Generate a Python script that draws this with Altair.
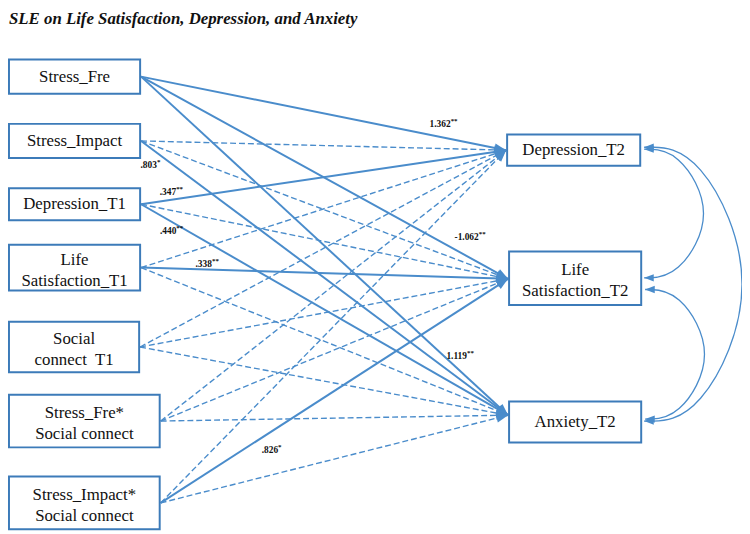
import math
import altair as alt
import pandas as pd

TITLE = "SLE on Life Satisfaction, Depression, and Anxiety"

# ---- nodes -------------------------------------------------------------
pred_ids = ["SF", "SI", "D1", "L1", "SC", "SFS", "SIS"]
pred_labels = ["Stress_Fre", "Stress_Impact", "Depression_T1", "Life\nSatisfaction_T1",
               "Social\nconnect\u00a0 T1", "Stress_Fre*\nSocial connect",
               "Stress_Impact*\nSocial connect"]
out_ids = ["D2", "L2", "A2"]
out_labels = ["Depression_T2", "Life\nSatisfaction_T2", "Anxiety_T2"]

# box layout (diagram canvas 750 x 534)
pred_x0 = [1, 1, 1, 1, 1, 1, 1]
pred_x1 = [135, 135, 135, 135, 134, 155, 155]
pred_y0 = [50, 116, 182, 240, 319, 394, 478]
pred_y1 = [85, 151, 215, 287, 371, 448, 532]
out_x0 = [510, 512, 512]
out_x1 = [646, 647, 647]
out_y0 = [127, 247, 401]
out_y1 = [159, 302, 443]
out_in_y = [143, 275, 415]   # where incoming paths meet each outcome box

# ---- paths -------------------------------------------------------------
edge_from = ["SF", "SF", "SF", "SI", "SI", "SI", "D1", "D1", "D1", "L1", "L1", "L1",
             "SC", "SC", "SC", "SFS", "SFS", "SFS", "SIS", "SIS", "SIS"]
edge_to = ["D2", "L2", "A2"] * 7
edge_coef = ["1.362", "-1.062", "1.119", "", "", ".803", ".347", "", ".440",
             "", ".338", "", "", "", "", "", "", "", "", ".826", ""]
edge_stars = ["**", "**", "**", "", "", "*", "**", "", "**",
              "", "**", "", "", "", "", "", "", "", "", "*", ""]
# label placement: fraction along the path and vertical offset
edge_label_t = [0.848, 0.920, 0.888, 0, 0, 0.043, 0.096, 0, 0.096,
                0, 0.193, 0, 0, 0, 0, 0, 0, 0, 0, 0.338, 0]
edge_label_dy = [-15, -26, -22, 0, 0, 13, -7, 0, 7,
                 0, -5.5, 0, 0, 0, 0, 0, 0, 0, 0, 23, 0]

# covariances between outcomes (double-headed arcs)
cov_a = ["D2", "L2", "D2"]
cov_b = ["L2", "A2", "A2"]
cov_ya = [142, 286, 140]
cov_yb = [274, 419, 421]
cov_bulge_a = [34, 34, 56]
cov_bulge_b = [74, 74, 122]

LINE = "#4a8ccb"
BOX = "#3c7bb9"
SERIF = "Times New Roman, Liberation Serif, serif"
LH = 21

# ---- build tables ------------------------------------------------------
boxes = pd.DataFrame({
    "id": pred_ids + out_ids,
    "label": pred_labels + out_labels,
    "x0": pred_x0 + out_x0, "x1": pred_x1 + out_x1,
    "y0": pred_y0 + out_y0, "y1": pred_y1 + out_y1,
})
boxes["cx"] = (boxes.x0 + boxes.x1) / 2
boxes["cy"] = (boxes.y0 + boxes.y1) / 2
boxes["nl"] = boxes.label.str.count("\n")
boxes["ty"] = boxes.cy - boxes.nl * 8
bx = boxes.set_index("id")
in_y = dict(zip(out_ids, out_in_y))

rows = []
for f, t, c, s, lt, ldy in zip(edge_from, edge_to, edge_coef, edge_stars,
                               edge_label_t, edge_label_dy):
    sx, sy = bx.loc[f, "x1"] + 1, bx.loc[f, "cy"]
    tx, ty = bx.loc[t, "x0"] - 1, in_y[t]
    ang = math.degrees(math.atan2(ty - sy, tx - sx)) % 360
    rows.append(dict(sx=sx, sy=sy, tx=tx, ty=ty, ang=ang,
                     sig="sig" if c else "ns", coef=c, stars=s,
                     lx=sx + lt * (tx - sx), ly=sy + lt * (ty - sy) + ldy))
edges = pd.DataFrame(rows)
labels = edges[edges.coef != ""]

arc_pts, heads = [], []
for k, (a, b, ya, yb, ba, bb) in enumerate(zip(cov_a, cov_b, cov_ya, cov_yb,
                                               cov_bulge_a, cov_bulge_b)):
    x0 = bx.loc[a, "x1"] + 4
    pts = [(x0, ya), (x0 + ba, ya), (x0 + bb, (ya + yb) / 2), (x0 + ba, yb), (x0, yb)]
    for i, (px, py) in enumerate(pts):
        arc_pts.append(dict(arc=k, o=i, x=px, y=py))
    heads.append(dict(x=x0, y=ya, ang=180))
    heads.append(dict(x=x0, y=yb, ang=180))
arcs = pd.DataFrame(arc_pts)
arc_heads = pd.DataFrame(heads)

# ---- chart -------------------------------------------------------------
xs = alt.Scale(domain=[0, 750], nice=False, zero=False)
ys = alt.Scale(domain=[0, 534], nice=False, zero=False, reverse=True)
X = lambda f: alt.X(f, type="quantitative", scale=xs, axis=None)
Y = lambda f: alt.Y(f, type="quantitative", scale=ys, axis=None)

ARROW = "M0,0L-1,-0.38L-1,0.38Z"

base_e = alt.Chart(edges)
solid = base_e.transform_filter(alt.datum.sig == "sig").mark_rule(
    color=LINE, strokeWidth=2).encode(x=X("sx"), y=Y("sy"), x2="tx", y2="ty")
dashed = base_e.transform_filter(alt.datum.sig == "ns").mark_rule(
    color=LINE, strokeWidth=1.4, strokeDash=[6, 3]).encode(
    x=X("sx"), y=Y("sy"), x2="tx", y2="ty")
heads_e = base_e.mark_point(shape=ARROW, filled=True, size=560, color=LINE,
                            opacity=1, strokeWidth=0).encode(
    x=X("tx"), y=Y("ty"), angle=alt.Angle("ang:Q", scale=None))

arc_lines = alt.Chart(arcs).mark_line(color=LINE, strokeWidth=1.3,
                                      interpolate="basis").encode(
    x=X("x"), y=Y("y"), detail="arc:N", order="o:Q")
arc_heads_l = alt.Chart(arc_heads).mark_point(shape=ARROW, filled=True, size=380,
                                              color=LINE, opacity=1,
                                              strokeWidth=0).encode(
    x=X("x"), y=Y("y"), angle=alt.Angle("ang:Q", scale=None))

rects = alt.Chart(boxes).mark_rect(fill="white", stroke=BOX, strokeWidth=2).encode(
    x=X("x0"), x2="x1", y=Y("y0"), y2="y1")
box_text = alt.Chart(boxes).mark_text(font=SERIF, fontSize=17, lineBreak="\n",
                                      lineHeight=LH, color="#111111",
                                      baseline="middle").encode(
    x=X("cx"), y=Y("ty"), text="label:N")

num_text = alt.Chart(labels).mark_text(font=SERIF, fontSize=9.5, fontWeight="bold",
                                       align="right", baseline="middle",
                                       color="#111111").encode(
    x=X("lx"), y=Y("ly"), text="coef:N")
star_text = alt.Chart(labels).mark_text(font=SERIF, fontSize=7, fontWeight="bold",
                                        align="left", baseline="middle", dy=-3,
                                        color="#111111").encode(
    x=X("lx"), y=Y("ly"), text="stars:N")

title_df = pd.DataFrame({"x": [1], "y": [8], "t": [TITLE]})
title = alt.Chart(title_df).mark_text(font=SERIF, fontSize=17, fontWeight="bold",
                                      fontStyle="italic", align="left",
                                      baseline="middle", color="#111111").encode(
    x=X("x"), y=Y("y"), text="t:N")

chart = alt.layer(dashed, solid, heads_e, arc_lines, arc_heads_l, rects, box_text,
                  num_text, star_text, title).properties(
    width=742, height=526, padding=0, autosize=alt.AutoSizeParams(type="none"),
    background="white"
).configure_view(stroke=None)

chart.save("out.html", embed_options={"renderer": "svg", "actions": False})
